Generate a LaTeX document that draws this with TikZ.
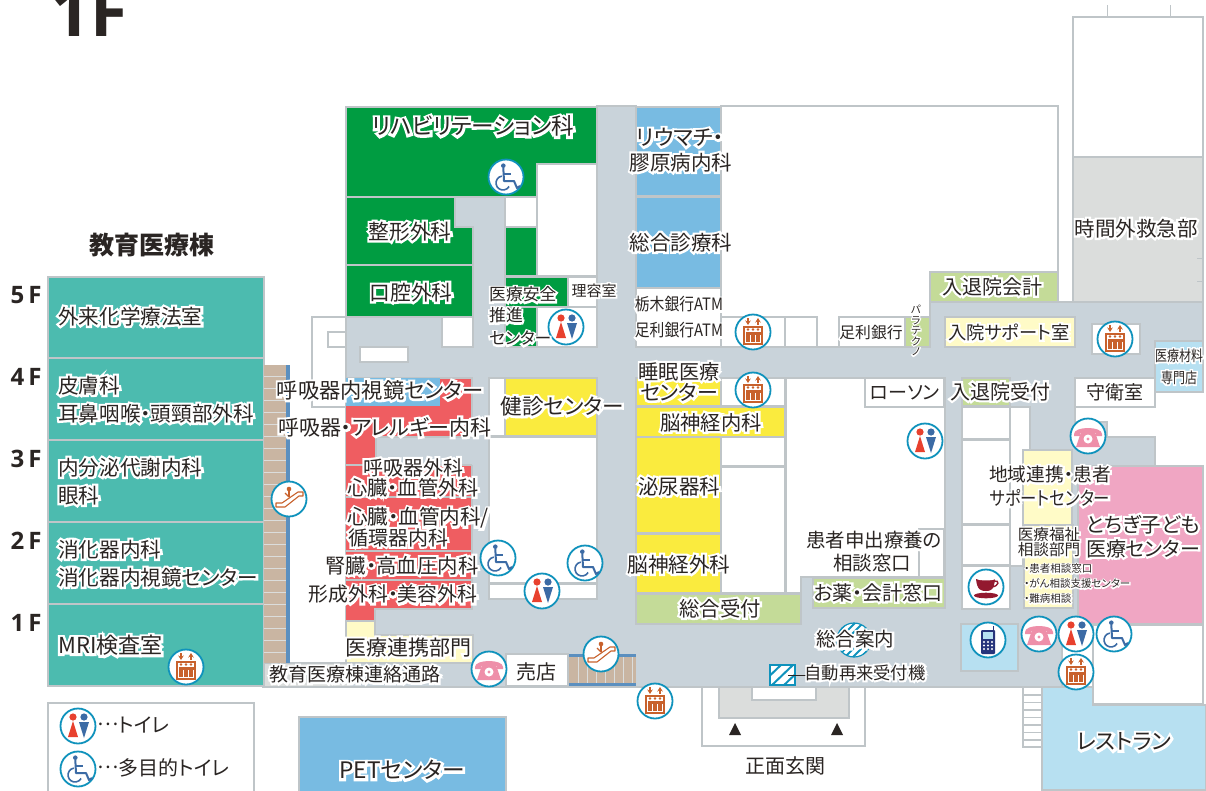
\documentclass[tikz,border=0pt]{standalone}
\usepackage{fontspec}
\usepackage{graphicx}
\setmainfont{Noto Sans CJK JP}[RawFeature=+palt]
\newfontfamily\hf{Noto Sans CJK JP}[RawFeature=+palt,FakeBold=22]
\newfontfamily\ttl{Open Sans}
\definecolor{ink}{HTML}{2A2523}
\definecolor{wallc}{HTML}{BFC5C8}
\definecolor{corr}{HTML}{C9D3DA}
\definecolor{grn}{HTML}{009C41}
\definecolor{teal}{HTML}{4CBBAF}
\definecolor{blu}{HTML}{78BBE2}
\definecolor{rd}{HTML}{EF5D61}
\definecolor{yel}{HTML}{FAEB3E}
\definecolor{pgrn}{HTML}{C4DB98}
\definecolor{pyel}{HTML}{FFFBC7}
\definecolor{pnk}{HTML}{F0A6C3}
\definecolor{lblu}{HTML}{B7E0F1}
\definecolor{gry}{HTML}{DBDDDC}
\definecolor{brn}{HTML}{C9B5A2}
\definecolor{stp}{HTML}{5B8FBF}
\definecolor{ring}{HTML}{0F92BC}
\definecolor{wc}{HTML}{3C6BA5}
\definecolor{tred}{HTML}{E8412E}
\definecolor{ora}{HTML}{C8612C}
\definecolor{phn}{HTML}{EE8FA9}
\definecolor{cof}{HTML}{93192F}
\definecolor{nav}{HTML}{27347B}
\newcommand{\Tx}[1]{\leavevmode\rlap{\hf\color{white}#1}{\rule{0pt}{.85em}\rule[-.15em]{0pt}{.15em}#1}}
\newcommand{\Rm}[3]{\draw[wall,fill=#3] (#1) rectangle (#2);}
\newcommand{\lbC}[4]{\node[lab,font=\fontsize{#3}{#3}\selectfont] (#1) at (#2) {\Tx{#4}};}
\newcommand{\lbL}[4]{\node[lab,anchor=west,font=\fontsize{#3}{#3}\selectfont] (#1) at (#2) {\Tx{#4}};}
\usetikzlibrary{arrows.meta}
\tikzset{
  wall/.style={draw=wallc,line width=1.4pt},
  lab/.style={inner sep=0pt,text=ink},
  flr/.style={inner sep=0pt,text=ink,font=\ttl\bfseries\fontsize{24}{24}\selectfont},
  bdg/.style={draw=ring,fill=white,line width=1.8pt},
  toilet/.pic={
    \draw[bdg] (0,0) circle (17.5);
    \fill[tred] (-5,-9) circle (3.6);
    \fill[tred] (-5,-5) -- (0,11) -- (-10,11) -- cycle;
    \fill[wc] (6,-9) circle (3.6);
    \fill[wc] (1,-4) -- (11,-4) -- (6,12) -- cycle;
  },
  wheel/.pic={
    \draw[bdg] (0,0) circle (17.5);
    \fill[wc] (-2.7,-11.3) circle (2.3);
    \draw[wc,line width=2pt,line join=round] (-2.7,-9) -- (-2,4) -- (8,4) -- (11,11) -- (14,9);
    \draw[wc,line width=1.8pt] (-2,-3) -- (5,-3);
    \draw[wc,line width=1.6pt] (-4.2,-.9) arc[start angle=-100,end angle=-330,radius=7];
  },
  elev/.pic={
    \draw[bdg] (0,0) circle (17.5);
    \draw[ora,line width=1.2pt,-{Stealth[length=4.5pt,width=5.5pt]}] (-5,-14) -- (-5,-7);
    \draw[ora,line width=1.2pt,-{Stealth[length=4.5pt,width=5.5pt]}] (5,-7) -- (5,-14);
    \draw[ora,line width=1.1pt] (-9,-5) rectangle (9,12);
    \foreach \px in {-5,0,5}{
      \fill[ora] (\px,-2.5) circle (1.4);
      \fill[ora] (\px-1.6,-.5) rectangle (\px+1.6,10);
    }
    \fill[ora] (-7.5,-.5) rectangle (7.5,2.5);
  },
  esca/.pic={
    \draw[bdg] (0,0) circle (17.5);
    \fill[ora] (0,-10) circle (2.3);
    \draw[ora,line width=2pt] (0,-9) -- (0,-2);
    \draw[ora,line width=1.1pt] (-4,-6) -- (0,-2);
    \draw[ora,line width=1.1pt,line join=round] (-13,4) -- (-7,4) -- (9,-7) -- (14,-7) -- (14,-3) -- (10,-3) -- (-4,8) -- (-13,8) -- cycle;
  },
  phone/.pic={
    \draw[bdg] (0,0) circle (17.5);
    \fill[phn] (-14,-2) .. controls (-14,-10) and (14,-10) .. (14,-2) -- (14,0) -- (8,0) -- (8,-3) -- (-8,-3) -- (-8,0) -- (-14,0) -- cycle;
    \fill[phn] (-7,-4) -- (7,-4) -- (12,11) -- (-12,11) -- cycle;
    \fill[white] (0,3) circle (4.5);
    \fill[phn] (0,3) circle (1.6);
  },
  cupicon/.pic={
    \draw[bdg] (0,0) circle (17.5);
    \fill[cof] (-10,-8) .. controls (-9,3) and (-5,4) .. (0,4) .. controls (5,4) and (8,3) .. (9,-8) -- cycle;
    \draw[cof,line width=1.4pt] (8,-6) .. controls (14,-7) and (13,-1) .. (6,0);
    \fill[cof] (0,8.5) ellipse (12 and 2.8);
    \fill[white] (0,-8) ellipse (9 and 1.4);
  },
  cell/.pic={
    \draw[bdg] (0,0) circle (17.5);
    \draw[nav,line width=1.4pt] (5.5,-10) -- (5.5,-14);
    \fill[nav,rounded corners=1pt] (-7,-10) rectangle (7,14);
    \fill[lblu] (-5,-8) rectangle (5,-1);
    \foreach \py in {2,5.5,9}\foreach \px in {-4,0,4}{\fill[white] (\px,\py) circle (1.1);}
  },
}
\begin{document}
\begin{tikzpicture}[x=1pt,y=-1pt]
\useasboundingbox (0,0) rectangle (1206,790);
\clip (0,0) rectangle (1206,790);
\fill[white] (0,0) rectangle (1206,790);
% right tower
\Rm{1073,17}{1203,157}{white}
\Rm{1073,157}{1203,302}{gry}
\draw[wallc,line width=1pt] (1107,5) -- (1107,17) (1170,5) -- (1170,17) (1197,258) -- (1203,258) (1197,281) -- (1203,281);
% back wall
\Rm{721,106}{1058,347}{white}
% corridor
\draw[wall,fill=corr] (597,106) -- (636,106) -- (636,347) -- (930,347) -- (930,302) -- (1203,302) -- (1203,392) -- (1155,392) -- (1155,378) -- (1075,378) -- (1075,422) -- (1107,422) -- (1107,437) -- (1155,437) -- (1155,466) -- (1078,466) -- (1078,608) -- (1093,608) -- (1093,625) -- (1062,625) -- (1062,687) -- (263,687) -- (263,663) -- (346,663) -- (346,317) -- (473,317) -- (473,227) -- (455,227) -- (455,197) -- (505,197) -- (505,347) -- (597,347) -- cycle;
\fill[gry] (265,664) rectangle (350,686);
% left building
\Rm{48,277}{264,358}{teal}
\Rm{48,358}{264,440}{teal}
\Rm{48,440}{264,522}{teal}
\Rm{48,522}{264,604}{teal}
\Rm{48,604}{264,686}{teal}
\fill[brn] (264,365) rectangle (286,663);
\foreach \yy in {376,388,...,660}{\draw[gry,line width=.8pt] (264,\yy) -- (286,\yy);}
\fill[stp] (286,365) rectangle (290,663);
\Rm{312,317}{346,407}{white}
\Rm{328,332}{346,347}{white}
% upper left block
\draw[wall,fill=grn] (346,107) -- (597,107) -- (597,164) -- (537,164) -- (537,197) -- (346,197) -- cycle;
\draw[wall,fill=white] (537,164) rectangle (597,276);
\draw[wall,fill=grn] (346,197) -- (455,197) -- (455,227) -- (473,227) -- (473,265) -- (346,265) -- cycle;
\Rm{346,265}{473,317}{grn}
\Rm{505,197}{537,227}{white}
\Rm{505,227}{537,276}{grn}
\Rm{505,277}{568,307}{grn}
\Rm{505,307}{537,347}{grn}
\Rm{568,277}{597,307}{white}
\Rm{537,307}{597,347}{white}
\Rm{442,317}{473,347}{white}
\Rm{360,347}{408,362}{white}
% red block
\fill[rd] (346,378) rectangle (472,437);
\fill[rd] (346,437) rectangle (376,465);
\fill[rd] (346,465) rectangle (472,609);
\fill[rd] (346,609) rectangle (375,621);
\draw[wall] (346,465) -- (472,465) (346,497) -- (472,497) (346,551) -- (472,551) (346,580) -- (472,580);
\draw[wall] (346,378) -- (472,378) -- (472,437) -- (376,437) -- (376,465) (472,465) -- (472,609) -- (375,609) -- (375,621) -- (346,621);
\fill[blu] (346,378) rectangle (440,406);
\draw[wall,fill=pyel] (346,621) -- (375,621) -- (375,635) -- (473,635) -- (473,663) -- (346,663) -- cycle;
% health block
\Rm{489,378}{505,436}{white}
\Rm{505,378}{597,436}{yel}
\Rm{489,437}{597,583}{white}
\Rm{489,584}{597,599}{white}
% shop
\Rm{506,654}{568,686}{white}
\fill[brn] (569,654) rectangle (636,686);
\foreach \xx in {578,587,...,632}{\draw[gry,line width=.8pt] (\xx,657) -- (\xx,683);}
\fill[stp] (569,654) rectangle (636,657);
\fill[stp] (569,683) rectangle (636,686);
% central column
\Rm{636,107}{721,196}{blu}
\Rm{636,197}{721,288}{blu}
\Rm{636,288}{721,347}{white}
\Rm{721,317}{785,347}{white}
\Rm{785,317}{817,347}{white}
\Rm{839,317}{905,347}{white}
\Rm{905,317}{930,347}{pgrn}
\Rm{930,272}{1058,302}{pgrn}
\Rm{945,317}{1075,347}{pyel}
\Rm{1092,324}{1140,354}{white}
\Rm{1155,341}{1203,392}{lblu}
\Rm{636,378}{721,406}{yel}
\Rm{721,378}{785,406}{white}
\Rm{636,407}{785,437}{yel}
\Rm{636,437}{721,533}{yel}
\Rm{636,534}{721,593}{yel}
\Rm{721,437}{785,466}{white}
\Rm{721,467}{785,593}{white}
\Rm{636,594}{801,624}{pgrn}
\draw[wall,fill=white] (786,378) -- (945,378) -- (945,577) -- (801,577) -- (801,593) -- (786,593) -- cycle;
\Rm{865,378}{944,407}{white}
\Rm{919,529}{944,577}{white}
\Rm{813,578}{945,608}{pgrn}
% right rooms
\Rm{1075,378}{1155,407}{white}
\Rm{962,378}{1010,406}{pgrn}
\Rm{962,407}{1010,439}{white}
\Rm{962,440}{1010,524}{white}
\Rm{962,525}{1010,565}{white}
\Rm{962,566}{1010,609}{white}
\draw[wall,fill=white] (1010,407) -- (1030,407) -- (1030,450) -- (1023,450) -- (1023,566) -- (1010,566) -- cycle;
\Rm{1023,450}{1072,525}{pyel}
\Rm{1024,525}{1073,608}{pyel}
\Rm{1078,466}{1203,624}{pnk}
\Rm{961,624}{1018,671}{lblu}
\Rm{1093,625}{1203,704}{white}
\draw[wall,fill=white] (1062,625) rectangle (1093,687);
\draw[wall,fill=lblu] (1042,687) -- (1093,687) -- (1093,705) -- (1206,705) -- (1206,790) -- (1042,790) -- cycle;
\draw[wall,fill=white] (1023,687) rectangle (1042,747);
\foreach \yy in {695,702.5,710,717.5,725,732.5,740}{\draw[wall] (1023,\yy) -- (1042,\yy);}
% entrance
\Rm{702,687}{865,746}{white}
\Rm{719,687}{849,718}{gry}
\Rm{752,687}{816,700}{white}
\fill[ink] (735,723) -- (741,735) -- (729,735) -- cycle;
\fill[ink] (837,723) -- (843,735) -- (831,735) -- cycle;
% hatched markers
\begin{scope}
\clip (854,640) circle (17);
\fill[white] (836,622) rectangle (872,658);
\foreach \dd in {-32,-24,...,32}{\draw[ring,line width=2pt] (836+\dd,658) -- (872+\dd,622);}
\end{scope}
\draw[ring,line width=1.2pt] (854,640) circle (17);
\begin{scope}
\clip (770,665) rectangle (795,685);
\fill[white] (770,665) rectangle (795,685);
\foreach \dd in {-12,0,12}{\draw[ring,line width=2pt] (770+\dd,687) -- (795+\dd,663);}
\end{scope}
\node[draw=ring,line width=1.4pt,minimum width=25pt,minimum height=20pt,inner sep=0pt] (kiosk) at (782.5,675) {};
\coordinate (kioskline) at (806,675);
\draw[ink,line width=1pt] (788,675) -- (kioskline);
% legend & PET
\Rm{48,703}{254,800}{white}
\Rm{299,717}{506,800}{blu}
% icons
\pic at (506,177) {wheel};
\pic at (566,327) {toilet};
\pic at (753,332) {elev};
\pic at (753,390) {elev};
\pic at (1115,339) {elev};
\pic at (186,667) {elev};
\pic at (655,701) {elev};
\pic at (1076,672) {elev};
\pic at (925,441) {toilet};
\pic at (542,591) {toilet};
\pic at (1076,634) {toilet};
\pic at (78,726) {toilet};
\pic at (498,558) {wheel};
\pic at (585,563) {wheel};
\pic at (1114,634) {wheel};
\pic at (78,769) {wheel};
\pic at (289,499) {esca};
\pic at (601,654) {esca};
\pic at (489,669) {phone};
\pic at (1088,436) {phone};
\pic at (1039,634) {phone};
\pic at (986,587) {cupicon};
\pic at (988,640) {cell};
% titles
\node[inner sep=0pt,anchor=base west,text=ink,font=\ttl\bfseries\fontsize{68}{68}\selectfont] (bigf) at (51,36) {1F};
\node[inner sep=0pt,text=ink,font=\bfseries\fontsize{25}{25}\selectfont] (edu) at (152,245) {教育医療棟};
\node[flr] (f5) at (26,295) {5\,F};
\node[flr] (f4) at (26,377) {4\,F};
\node[flr] (f3) at (26,459) {3\,F};
\node[flr] (f2) at (26,541) {2\,F};
\node[flr] (f1) at (26,623) {1\,F};
% left labels
\lbL{a1}{58,317}{20.6}{外来化学療法室}
\lbL{a2}{58,386}{20.6}{皮膚科}
\lbL{a3}{58,414}{20.6}{耳鼻咽喉・頭頸部外科}
\lbL{a4}{58,468}{20.6}{内分泌代謝内科}
\lbL{a5}{58,496}{20.6}{眼科}
\lbL{a6}{58,550}{20.6}{消化器内科}
\lbL{a7}{58,578}{20.6}{消化器内視鏡センター}
\lbL{a8}{58,646}{22}{MRI検査室}
% upper left labels
\lbC{b1}{473,127}{22.6}{リハビリテーション科}
\lbC{b2}{410,232}{20.7}{整形外科}
\lbC{b3}{411,293}{20.7}{口腔外科}
\lbL{b4}{489,295}{16.8}{医療安全}
\lbL{b5}{489,316}{16.8}{推進}
\lbL{b6}{489,339}{16.8}{センター}
\lbC{b7}{594,291}{15}{理容室}
\lbC{c1}{380,391}{21.3}{呼吸器内視鏡センター}
\lbC{c2}{385,428}{21}{呼吸器・アレルギー内科}
\lbC{c3}{562,407}{21.6}{健診センター}
\lbC{c4}{413,468}{20}{呼吸器外科}
\lbC{c5}{413,488}{20.2}{心臓・血管外科}
\lbC{c6}{418,518}{20.6}{心臓・血管内科/}
\lbC{c7}{398,538}{20}{循環器内科}
\lbC{c8}{402,566}{20.4}{腎臓・高血圧内科}
\lbC{c9}{393,595}{19.9}{形成外科・美容外科}
\lbC{c10}{408,648}{21}{医療連携部門}
\lbC{c11}{355,675}{19}{教育医療棟連絡通路}
\lbC{c12}{536,672}{20}{売店}
% central labels
\lbC{d1}{680,138}{21.7}{リウマチ・}
\lbC{d2}{681,163}{20.5}{膠原病内科}
\lbC{d3}{681,243}{20.5}{総合診療科}
\lbC{d4}{679,305}{17}{\scalebox{.87}[1]{栃木銀行ATM}}
\lbC{d5}{679,331}{17}{\scalebox{.87}[1]{足利銀行ATM}}
\lbC{d6}{871,333}{15.8}{足利銀行}
\node[lab,align=center,font=\fontsize{10.5}{10.5}\selectfont] (d7) at (916,331) {\Tx{パ}\\\Tx{ラ}\\\Tx{テ}\\\Tx{ク}\\\Tx{ノ}};
\lbC{d8}{679,372}{20.2}{睡眠医療}
\lbC{d9}{679,393}{21}{センター}
\lbC{d10}{711,423}{20.3}{脳神経内科}
\lbC{d11}{679,487}{20.5}{泌尿器科}
\lbC{d12}{679,565}{20.6}{脳神経外科}
\lbC{d13}{720,609}{20.4}{総合受付}
\lbC{d14}{874,541}{19.5}{患者申出療養の}
\lbC{d15}{872,564}{19.5}{相談窓口}
\lbC{d16}{878,593}{20}{お薬・会計窓口}
\lbC{d17}{855,640}{19.5}{総合案内}
\lbC{d18}{865,673}{17.3}{自動再来受付機}
\lbC{d19}{785,766}{20}{正面玄関}
% right labels
\lbC{e1}{992,287}{20}{入退院会計}
\lbC{e2}{1009,333}{18.3}{入院サポート室}
\lbC{e3}{1179,356}{15}{\scalebox{.8}[1]{医療材料}}
\lbC{e4}{1179,378}{15}{\scalebox{.8}[1]{専門店}}
\lbC{e5}{1136,229}{20.5}{時間外救急部}
\lbC{e6}{905,393}{19}{ローソン}
\lbC{e7}{1000,392}{20}{入退院受付}
\lbC{e8}{1115,393}{19}{守衛室}
\lbC{e9}{1050,475}{18.7}{地域連携・患者}
\lbC{e10}{1050,499}{19}{\scalebox{.86}[1]{サポートセンター}}
\lbC{e11}{1143,525}{20.5}{とちぎ子ども}
\lbC{e12}{1143,549}{20}{医療センター}
\lbC{e13}{1049,535}{15.6}{医療福祉}
\lbC{e14}{1049,550}{15.6}{相談部門}
\lbL{e15}{1024,569}{10.5}{・患者相談窓口}
\lbL{e16}{1024,584}{10.5}{・がん相談支援センター}
\lbL{e17}{1024,599}{10.5}{・難病相談}
\lbC{e18}{1124,742}{22}{レストラン}
% legend text, PET
\lbL{g1}{97,725}{20}{\raisebox{.32em}{…}トイレ}
\lbL{g2}{97,768}{20}{\raisebox{.32em}{…}多目的トイレ}
\lbC{g3}{402,771}{22.7}{PETセンター}
\end{tikzpicture}
\end{document}
